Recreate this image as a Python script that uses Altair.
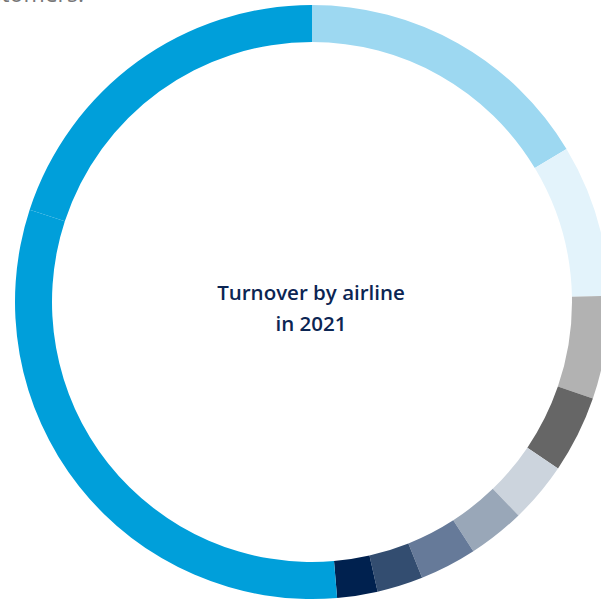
import altair as alt
import pandas as pd

segments = ["A", "B", "C", "D", "E", "F", "G", "H", "I", "J", "K"]
shares = [16.4, 8.3, 5.6, 4.2, 3.3, 3.1, 3.1, 2.5, 2.2, 31.4, 20.0]
colors = ["#9dd8f1", "#e3f3fb", "#b2b2b2", "#666666", "#ccd4dd", "#99a7b8",
          "#667a99", "#334d70", "#00214f", "#009fda", "#009fda"]
title_lines = "Turnover by airline\nin 2021"
top_note = "customers."

df = pd.DataFrame({"segment": segments, "share": shares, "order": list(range(len(segments)))})
one = pd.DataFrame({"k": [0]})

ring = alt.Chart(df).mark_arc(outerRadius=297, innerRadius=260, strokeWidth=0).encode(
    theta=alt.Theta("share:Q", stack=True),
    order=alt.Order("order:Q"),
    color=alt.Color("segment:N", scale=alt.Scale(domain=segments, range=colors), legend=None),
    x=alt.value(312),
    y=alt.value(302),
)

label = alt.Chart(one).mark_text(
    text=title_lines, lineBreak="\n", font="Open Sans", fontWeight=600, fontSize=20.5,
    color="#0b2553", align="center", baseline="middle", lineHeight=31,
).encode(x=alt.value(311), y=alt.value(293.5))

note = alt.Chart(one).mark_text(
    text=top_note, font="Open Sans", fontSize=23, color="#777777",
    align="right", baseline="alphabetic",
).encode(x=alt.value(84), y=alt.value(1.5))

chart = alt.layer(ring, label, note).properties(
    width=601, height=601, padding=0, autosize=alt.AutoSizeParams(type="none")
).configure_view(stroke=None)

chart.save("out.html", embed_options={"renderer": "svg", "actions": False})
